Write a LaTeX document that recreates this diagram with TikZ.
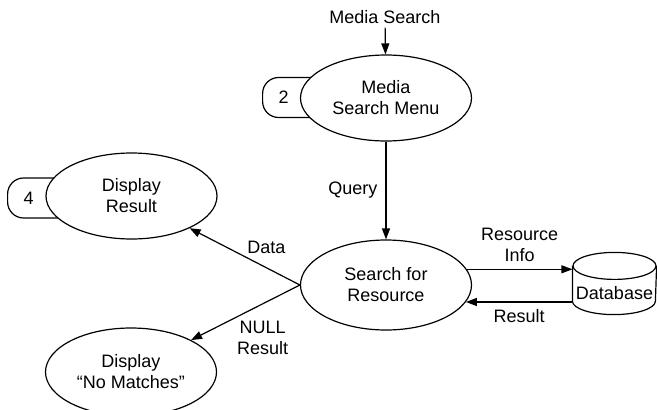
\documentclass[tikz,border=0pt]{standalone}
\usepackage{fontspec}
\setmainfont{Liberation Sans}
\usetikzlibrary{arrows.meta, positioning, shapes.geometric}

\begin{document}
\begin{tikzpicture}[
  x=1pt, y=-1pt,
  font=\fontsize{18}{21}\selectfont,
  line width=1.2pt,
  proc/.style={draw, ellipse, fill=white, align=center, minimum width=171pt, minimum height=86pt, inner sep=0pt},
  tab/.style={draw, rounded corners=16pt, minimum height=40pt, text width=38pt, inner xsep=16pt, align=left},
  store/.style={minimum width=83pt, minimum height=34pt, inner sep=0pt, text height=32pt, text depth=0pt},
  lbl/.style={align=center, inner sep=2pt},
  >={Triangle[length=11pt, width=8pt]}
]
\useasboundingbox (0,0) rectangle (657,410);

% tabs first, so the bubbles cover their right ends
\node[tab, anchor=west] (tab2) at (262,97.5) {2};
\node[tab, anchor=west] (tab4) at (7,198) {4};

\node[proc] (menu) at (386,98) {Media\\Search Menu};
\node[proc] (show) at (131.5,196) {Display\\Result};
\node[proc, minimum height=90pt] (search) at (386,285) {Search for\\Resource};
\node[proc, minimum height=88pt] (nomatch) at (131,372) {Display\\“No Matches”};

% data store: body node, outline drawn round it
\node[store] (db) at (614.5,283.5) {Database};
\draw (db.north) ellipse [x radius=41.5pt, y radius=13.5pt];
\draw (db.north west) -- (db.south west)
  arc[start angle=180, end angle=360, x radius=41.5pt, y radius=13.5pt] -- (db.north east);

\node (msin) at (385,17) {Media Search};

\draw[->] (msin) -- (menu);
\draw[->] (menu) -- node[lbl, left=6pt] {Query} (search);
\draw[->] (search.west) -- node[lbl, pos=.5, above right] {Data} (show.-29);
\draw[->] (search.west) -- node[lbl, pos=.6, below right] {NULL\\Result} (nomatch.28);
\draw[->] (search.11) -- node[lbl, above=5pt] {Resource\\Info} (search.11 -| db.west);
\draw[->] (search.-12 -| db.west) -- node[lbl, below=5pt] {Result} (search.-12);
\end{tikzpicture}
\end{document}
